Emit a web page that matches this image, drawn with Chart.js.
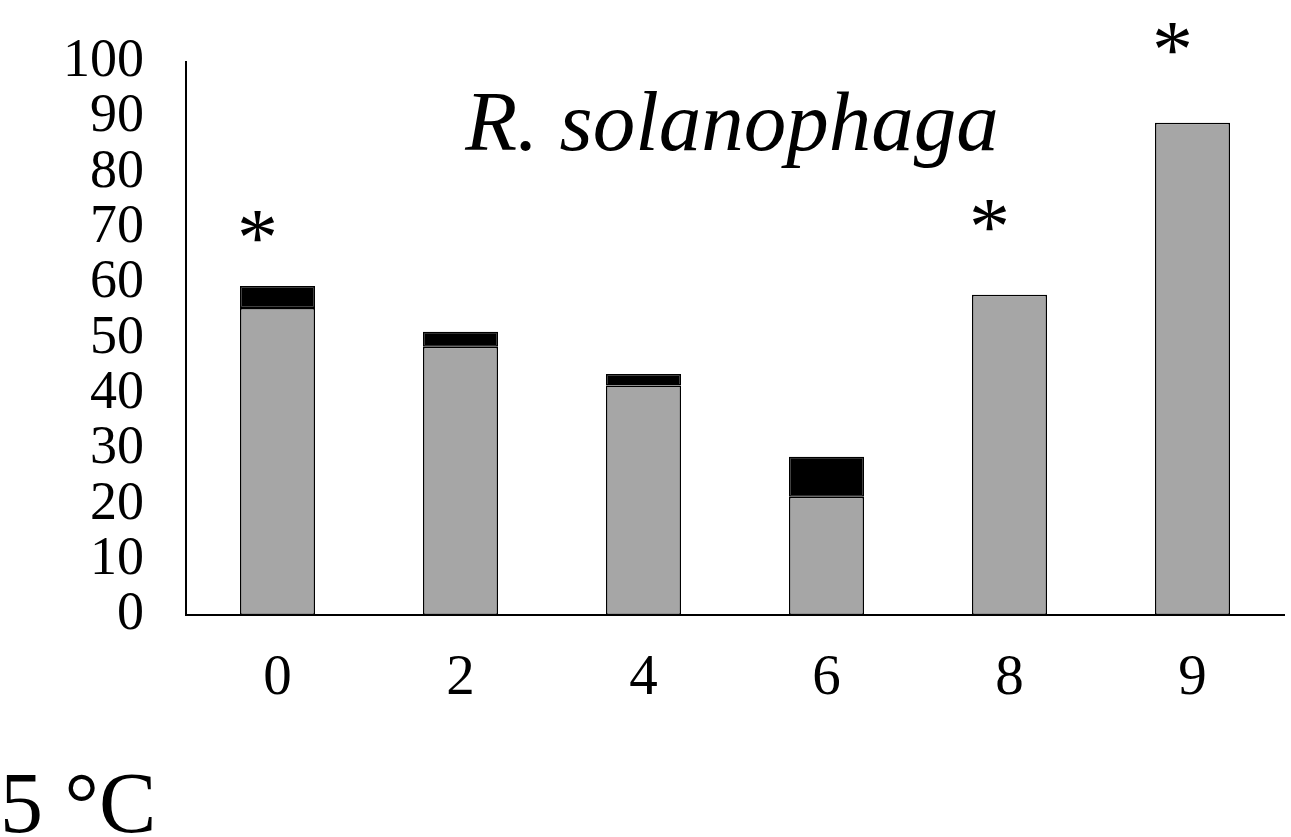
<!DOCTYPE html>
<html>
<head>
<meta charset="utf-8">
<script src="https://cdn.jsdelivr.net/npm/chart.js@4/dist/chart.umd.min.js"></script>
<style>
  html, body { margin: 0; padding: 0; background: #fff; }
  #wrap { width: 1291px; height: 837px; position: relative; }
</style>
</head>
<body>
<div id="wrap"><canvas id="myBarChart"></canvas></div>
<script>
/*  data
-------------------------------------------------------*/
var categories = ['0', '2', '4', '6', '8', '9'];
var grayValues = [55.5, 48.5, 41.5, 21.4, 57.9, 89.0];
var blackValues = [4.0, 2.7, 2.1, 7.2, 0, 0];
var starLevels = [70, null, null, null, 72, 104];
var yTicks = [0, 10, 20, 30, 40, 50, 60, 70, 80, 90, 100];
var chartTitle = 'R. solanophaga';
var cornerLabel = '5 \u00B0C';

/*  annotations: title, asterisks, corner label
-------------------------------------------------------*/
var annotate = {
  id: 'annotate',
  afterDraw: function (chart) {
    var c = chart.ctx, area = chart.chartArea;
    var xs = chart.scales.x, ys = chart.scales.y;
    c.save();
    c.fillStyle = '#000';
    c.font = 'italic 85px "Liberation Serif"';
    c.textAlign = 'center';
    c.textBaseline = 'alphabetic';
    c.fillText(chartTitle, (area.left + area.right) / 2 - 3, ys.getPixelForValue(84));

    c.font = '82px "Liberation Serif"';
    c.textBaseline = 'middle';
    starLevels.forEach(function (v, i) {
      if (v === null) return;
      c.fillText('*', xs.getPixelForValue(i) - 20, ys.getPixelForValue(v) + 16);
    });

    c.font = '86px "Liberation Serif"';
    c.textAlign = 'left';
    c.textBaseline = 'alphabetic';
    c.fillText(cornerLabel, 0, 832);
    c.restore();
  }
};

/*  chart
-------------------------------------------------------*/
var ctx = document.getElementById('myBarChart');
var myBarChart = new Chart(ctx, {
  type: 'bar',
  data: {
    labels: categories,
    datasets: [{
        label: 'gray',
        data: grayValues,
        backgroundColor: '#a6a6a6',
        borderColor: '#000',
        borderWidth: 1.5,
        borderSkipped: false
      }, {
        label: 'black',
        data: blackValues,
        backgroundColor: '#000',
        borderColor: '#000',
        borderWidth: 1.5,
        borderSkipped: false
      }
    ]
  },
  options: {
    responsive: true,
    maintainAspectRatio: false,
    animation: false,
    layout: { padding: { top: 62, right: 7, bottom: 0, left: 0 } },
    datasets: { bar: { categoryPercentage: 0.41, barPercentage: 1.0 } },
    plugins: { legend: { display: false }, tooltip: { enabled: false } },
    scales: {
      x: {
        stacked: true,
        grid: { display: false, drawTicks: false },
        border: { display: true, color: '#000', width: 2 },
        ticks: {
          color: '#000',
          padding: 30,
          font: { family: '"Liberation Serif"', size: 57, lineHeight: 1.2 }
        },
        afterFit: function (s) { s.height = 222; }
      },
      y: {
        stacked: true,
        min: 0,
        max: 100,
        afterBuildTicks: function (s) { s.ticks = yTicks.map(function (v) { return { value: v }; }); },
        grid: { display: false, drawTicks: false },
        border: { display: true, color: '#000', width: 2 },
        ticks: {
          color: '#000',
          autoSkip: false,
          padding: 42,
          font: { family: '"Liberation Serif"', size: 54, lineHeight: 0.5 }
        },
        afterFit: function (s) { s.width = 186; s.paddingTop = 0; s.paddingBottom = 0; }
      }
    }
  },
  plugins: [annotate]
});
</script>
</body>
</html>
